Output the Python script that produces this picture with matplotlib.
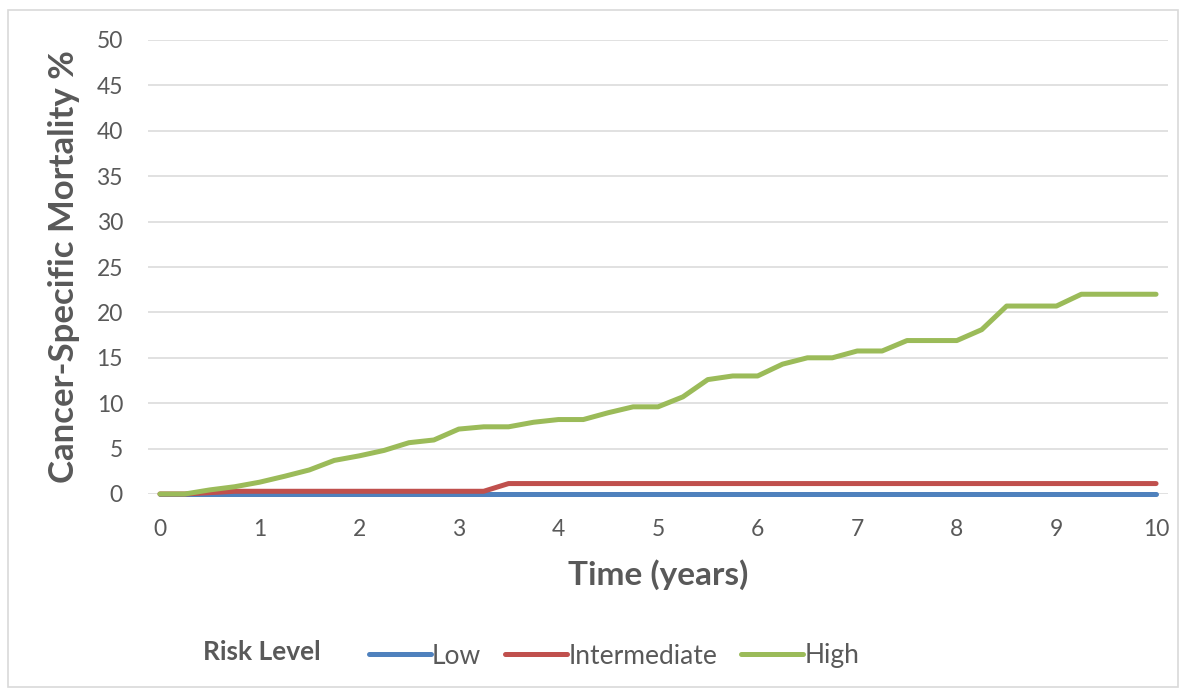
import matplotlib
matplotlib.use("Agg")
import matplotlib.pyplot as plt
from matplotlib.patches import Rectangle
from matplotlib.lines import Line2D

plt.rcParams['font.family'] = ['Lato', 'DejaVu Sans']

time = [0, 0.25, 0.5, 0.75, 1.0, 1.25, 1.5, 1.75, 2.0, 2.25, 2.5, 2.75, 3.0, 3.25,
        3.5, 3.75, 4.0, 4.25, 4.5, 4.75, 5.0, 5.25, 5.5, 5.75, 6.0, 6.25, 6.5, 6.75,
        7.0, 7.25, 7.5, 7.75, 8.0, 8.25, 8.5, 8.75, 9.0, 9.25, 9.5, 9.75, 10.0]
low = [0.0] * len(time)
intermediate = [0, 0, 0.15, 0.3, 0.3, 0.3, 0.3, 0.3, 0.3, 0.3, 0.3, 0.3, 0.3, 0.3,
                1.15, 1.15, 1.15, 1.15, 1.15, 1.15, 1.15, 1.15, 1.15, 1.15, 1.15, 1.15,
                1.15, 1.15, 1.15, 1.15, 1.15, 1.15, 1.15, 1.15, 1.15, 1.15, 1.15, 1.15,
                1.15, 1.15, 1.15]
high = [0, 0, 0.45, 0.8, 1.3, 1.95, 2.65, 3.7, 4.2, 4.8, 5.65, 5.95, 7.15, 7.4,
        7.4, 7.9, 8.2, 8.2, 8.95, 9.6, 9.6, 10.7, 12.6, 13.0, 13.0, 14.3, 15.0, 15.0,
        15.75, 15.75, 16.9, 16.9, 16.9, 18.1, 20.7, 20.7, 20.7, 22.0, 22.0, 22.0, 22.0]

series_names = ["Low", "Intermediate", "High"]
series_colors = ["#4F81BD", "#C0504D", "#9BBB59"]
x_ticks = list(range(0, 11))
y_ticks = list(range(0, 51, 5))

txt = "#595959"
fig = plt.figure(figsize=(11.86, 6.91), dpi=100)
W, H = 1186, 691
fig.patches.append(Rectangle((8 / W, 4 / H), 1170 / W, 677 / H, transform=fig.transFigure,
                             fill=False, edgecolor="#D9D9D9", linewidth=1.2))

ax = fig.add_axes([148 / W, 1 - 494 / H, (1168 - 148) / W, (494 - 40) / H])
lw = 3.6
for vals, name, col in zip([low, intermediate, high], series_names, series_colors):
    ax.plot(time, vals, color=col, linewidth=lw, solid_capstyle='round',
            solid_joinstyle='round', label=name, zorder=3, clip_on=False)

ax.set_xlim(-0.12, 10.12)
ax.set_ylim(0, 50)
ax.set_xticks(x_ticks)
ax.set_yticks(y_ticks)
ax.grid(axis='y', color="#D9D9D9", linewidth=1.1)
ax.set_axisbelow(True)
for s in ax.spines.values():
    s.set_visible(False)
ax.tick_params(axis='both', length=0, labelsize=16.5, labelcolor=txt)
ax.tick_params(axis='y', pad=18)
ax.tick_params(axis='x', pad=18)

ax.set_xlabel("Time (years)", fontsize=24, fontweight='bold', color=txt, labelpad=14)
ax.set_ylabel("Cancer-Specific Mortality %", fontsize=25, fontweight='bold', color=txt, labelpad=12)

fig.text(203 / W, 1 - 652 / H, "Risk Level", fontsize=19, fontweight='bold', color=txt,
         va='center', ha='left')
handles = [Line2D([0], [0], color=c, linewidth=lw, solid_capstyle='round') for c in series_colors]
leg = fig.legend(handles, series_names, loc='center left', bbox_to_anchor=(345 / W, 1 - 656 / H),
                 ncol=3, frameon=False, fontsize=19, handlelength=2.35, handletextpad=0.05,
                 columnspacing=0.9, labelcolor=txt)

fig.savefig("out.png", dpi=100)
